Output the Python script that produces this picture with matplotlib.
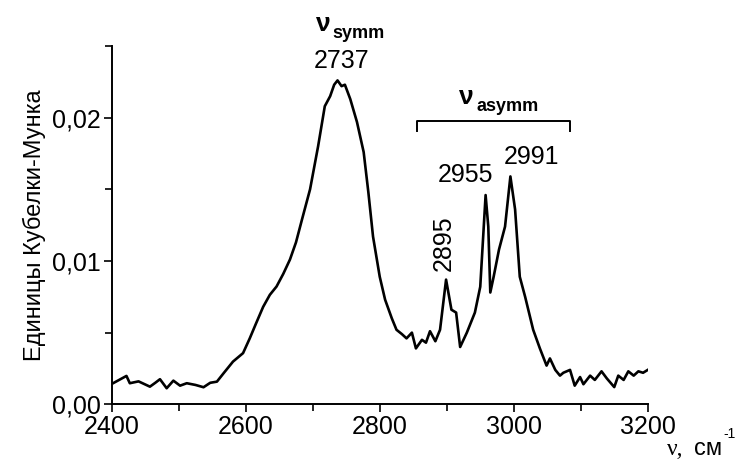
# Diffuse reflectance spectrum (Kubelka-Munk units), C-H stretching region
import numpy as np
import matplotlib
matplotlib.use('Agg')
import matplotlib.pyplot as plt
from matplotlib.ticker import MultipleLocator, FuncFormatter

plt.rcParams['font.family'] = ['Liberation Sans', 'DejaVu Sans']

# wavenumber, cm-1
wavenumber = [2402, 2422, 2427, 2440, 2457, 2465, 2472, 2482, 2492, 2502, 2512, 2525,
              2537, 2547, 2557, 2567, 2581, 2596, 2606, 2615, 2626, 2636, 2646, 2656,
              2666, 2675, 2684, 2696, 2708, 2718, 2726, 2732, 2737, 2743, 2748, 2756,
              2766, 2776, 2783, 2790, 2800, 2808, 2818, 2825, 2833, 2840, 2848, 2854,
              2863, 2869, 2875, 2883, 2890, 2899, 2907, 2914, 2920, 2925, 2930, 2942,
              2950, 2958, 2962, 2965, 2970, 2978, 2987, 2995, 3002, 3009, 3017, 3029,
              3039, 3049, 3054, 3062, 3069, 3074, 3084, 3091, 3099, 3104, 3114, 3121,
              3131, 3139, 3150, 3156, 3164, 3171, 3179, 3186, 3193, 3200]
# Kubelka-Munk function
km = [0.00147, 0.00198, 0.00147, 0.00160, 0.00123, 0.00150, 0.00175, 0.00112, 0.00165, 0.00130,
      0.00147, 0.00135, 0.00119, 0.00150, 0.00158, 0.00217, 0.00298, 0.00357, 0.00460, 0.00560,
      0.00680, 0.00764, 0.00822, 0.00910, 0.01010, 0.01130, 0.01290, 0.01500, 0.01800, 0.02080,
      0.02150, 0.02230, 0.02260, 0.02220, 0.02230, 0.02130, 0.01970, 0.01760, 0.01480, 0.01170,
      0.00890, 0.00730, 0.00600, 0.00520, 0.00490, 0.00460, 0.00500, 0.00390, 0.00450, 0.00430,
      0.00510, 0.00440, 0.00520, 0.00870, 0.00660, 0.00640, 0.00400, 0.00450, 0.00500, 0.00640,
      0.00820, 0.01460, 0.01240, 0.00780, 0.00890, 0.01080, 0.01240, 0.01590, 0.01360, 0.00890,
      0.00750, 0.00520, 0.00390, 0.00270, 0.00320, 0.00240, 0.00200, 0.00220, 0.00240, 0.00130,
      0.00190, 0.00140, 0.00200, 0.00170, 0.00230, 0.00180, 0.00120, 0.00200, 0.00170, 0.00230,
      0.00200, 0.00230, 0.00220, 0.00240]

peak_pos = [2737, 2895, 2955, 2991]
peak_height = [0.0226, 0.0087, 0.0146, 0.0159]
asymm_range = [2856, 3084]

fig = plt.figure(figsize=(7.36, 4.63), dpi=100)
ax = fig.add_axes([0.1518, 0.1268, 0.7283, 0.7738])

ax.plot(wavenumber, km, color='black', lw=1.9)

ax.set_xlim(2400, 3200)
ax.set_ylim(0, 0.025)
ax.xaxis.set_major_locator(MultipleLocator(200))
ax.xaxis.set_minor_locator(MultipleLocator(100))
ax.yaxis.set_major_locator(MultipleLocator(0.01))
ax.yaxis.set_minor_locator(MultipleLocator(0.005))
ax.yaxis.set_major_formatter(FuncFormatter(lambda v, p: ('%.2f' % v).replace('.', ',')))
ax.tick_params(which='both', direction='out', width=1.2, labelsize=18, pad=2)
ax.tick_params(which='major', length=6)
ax.tick_params(which='minor', length=5)
for s in ['top', 'right']:
    ax.spines[s].set_visible(False)
for s in ['left', 'bottom']:
    ax.spines[s].set_linewidth(1.4)

ax.set_ylabel('Единицы Кубелки-Мунка', fontsize=17, labelpad=4)

# x axis title in the lower right corner
fig.text(0.906, 0.018, 'ν,', family='Liberation Serif', fontsize=17)
fig.text(0.943, 0.018, 'см', fontsize=17)
fig.text(0.983, 0.055, '-1', fontsize=10)

# peak labels
ax.annotate(str(peak_pos[0]), (peak_pos[0], peak_height[0]), xytext=(3, 5),
            textcoords='offset points', ha='center', va='bottom', fontsize=18)
ax.annotate(str(peak_pos[1]), (peak_pos[1], peak_height[1]), xytext=(0, 6),
            textcoords='offset points', ha='center', va='bottom', fontsize=18,
            rotation=90)
ax.annotate(str(peak_pos[2]), (peak_pos[2], peak_height[2]), xytext=(-13, 6),
            textcoords='offset points', ha='center', va='bottom', fontsize=18)
ax.annotate(str(peak_pos[3]), (peak_pos[3], peak_height[3]), xytext=(17, 5),
            textcoords='offset points', ha='center', va='bottom', fontsize=18)

# symmetric band
ax.annotate('ν', (peak_pos[0], peak_height[0]), xytext=(-10, 32),
            textcoords='offset points', ha='center', va='bottom', fontsize=19,
            fontweight='bold', annotation_clip=False)
ax.annotate('symm', (peak_pos[0], peak_height[0]), xytext=(15, 28),
            textcoords='offset points', ha='center', va='bottom', fontsize=13,
            fontweight='bold', annotation_clip=False)

# asymmetric bands bracket
yb = 0.0198
ax.plot([asymm_range[0], asymm_range[0], asymm_range[1], asymm_range[1]],
        [yb - 0.0007, yb, yb, yb - 0.0007], color='black', lw=1.4)
xm = (asymm_range[0] + asymm_range[1]) / 2
ax.annotate('ν', (xm, yb), xytext=(-20, 8), textcoords='offset points',
            ha='center', va='bottom', fontsize=19, fontweight='bold')
ax.annotate('asymm', (xm, yb), xytext=(10, 4), textcoords='offset points',
            ha='center', va='bottom', fontsize=13, fontweight='bold')

fig.savefig('out.png', dpi=100)
